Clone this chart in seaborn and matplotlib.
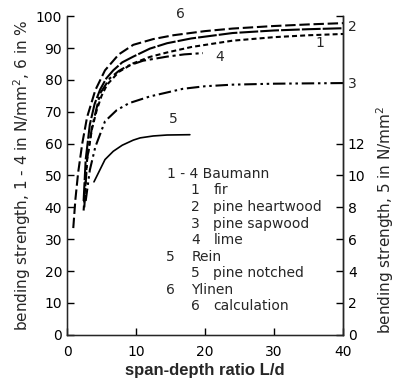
import numpy as np
import pandas as pd
import matplotlib
matplotlib.use("Agg")
import matplotlib.pyplot as plt
import seaborn as sns

# -----------------------------------
# Curve data
# -----------------------------------
x6 = [0.9, 1.2, 1.6, 2.2, 2.9, 4.1, 5.5, 7.5, 9.6, 12.5, 15.4, 20, 24, 30, 35, 40]
y6 = [33.5, 42.3, 50.8, 60, 68.3, 76.8, 83, 88, 91, 92.8, 94, 95.3, 96.1, 96.9, 97.4, 97.8]

x2 = [2.4, 2.7, 3.3, 4.0, 4.8, 5.7, 6.7, 8.0, 9.6, 12, 14.5, 18, 24, 30, 35, 40]
y2 = [42, 55, 66, 72.5, 77, 80.5, 83, 85.5, 87.3, 89.8, 91.5, 93, 94.7, 95.5, 95.9, 96.2]

x1 = [2.4, 2.9, 3.6, 4.3, 5.0, 5.8, 7.5, 9.6, 12, 14.5, 18, 24, 30, 35, 40]
y1 = [39, 55, 64.5, 70.5, 75, 78.5, 82.5, 85.2, 87.2, 88.6, 90.3, 92.3, 93.4, 94, 94.4]

x4 = [2.5, 2.9, 3.6, 4.8, 6.2, 7.5, 8.7, 11, 14.5, 17, 19.7]
y4 = [40, 55, 65, 75.8, 80.5, 82.8, 84.3, 86, 87.3, 88, 88.4]

x3 = [2.7, 3.3, 4.1, 5.5, 7.2, 9.0, 12, 16.8, 20, 24, 30, 40]
y3 = [42, 51.7, 59, 67, 70.5, 72.7, 74.8, 77.2, 78, 78.5, 78.8, 79]

x5 = [3.9, 5.5, 6.7, 8.0, 9.6, 10.6, 12.5, 14.5, 17.8]
y5 = [48, 55, 57.6, 59.5, 61.1, 61.8, 62.4, 62.7, 62.8]

curve_names = ["6", "2", "1", "4", "3", "5"]
curve_x = [x6, x2, x1, x4, x3, x5]
curve_y = [y6, y2, y1, y4, y3, y5]

legend_lines = [
    ("1 - 4 Baumann", "", 0),
    ("1", "fir", 1),
    ("2", "pine heartwood", 1),
    ("3", "pine sapwood", 1),
    ("4", "lime", 1),
    ("5", "Rein", 2),
    ("5", "pine notched", 1),
    ("6", "Ylinen", 2),
    ("6", "calculation", 1),
]

frames = []
for name, xs, ys in zip(curve_names, curve_x, curve_y):
    frames.append(pd.DataFrame({"L/d": xs, "strength": ys, "curve": name}))
data = pd.concat(frames, ignore_index=True)

dash_map = {
    "6": (5, 1.8),
    "2": (9, 1.0),
    "1": (2.4, 1.5),
    "4": (6, 1.8, 1.5, 1.8),
    "3": (6, 1.8, 1.2, 1.8, 1.2, 1.8),
    "5": "",
}

# -----------------------------------
# Plot
# -----------------------------------
sns.set_style("ticks")
plt.rcParams["font.family"] = ["DejaVu Sans"]

fig = plt.figure(figsize=(4.04, 3.84), dpi=100)
ax = fig.add_axes([0.166, 0.128, 0.683, 0.83])

sns.lineplot(
    data=data,
    x="L/d",
    y="strength",
    hue="curve",
    style="curve",
    dashes=dash_map,
    palette={k: "black" for k in curve_names},
    linewidth=1.5,
    sort=False,
    estimator=None,
    legend=False,
    ax=ax
)
# curve 5 is drawn thinner in the original
ax.lines[-1].set_linewidth(1.2)

ax.set_xlim(0, 40)
ax.set_ylim(0, 100)
ax.set_xticks(range(0, 41, 10))
ax.set_yticks(range(0, 101, 10))
ax.tick_params(direction="in", length=5, width=1, labelsize=10, colors="black")
ax.tick_params(axis="x", pad=7)
for s in ["left", "bottom", "right"]:
    ax.spines[s].set_linewidth(1)
    ax.spines[s].set_color("black")
ax.spines["top"].set_visible(False)

ax.set_xlabel("span-depth ratio L/d", fontsize=12, fontweight="bold",
              family="Liberation Sans", labelpad=3)
ax.set_ylabel("bending strength, 1 - 4 in N/mm$^2$, 6 in %", fontsize=11,
              labelpad=2)

# Right axis: curve 5 in N/mm^2
ax2 = ax.twinx()
ax2.set_ylim(0, 20)
ax2.set_yticks([0, 2, 4, 6, 8, 10, 12, 20])
ax2.set_yticklabels(["0", "2", "4", "6", "8", "10", "12", ""])
ax2.tick_params(direction="in", length=5, width=1, labelsize=10, colors="black")
ax2.spines["top"].set_visible(False)
ax2.spines["right"].set_linewidth(1)
ax2.set_ylabel("bending strength, 5 in N/mm$^2$", fontsize=11)
ax2.yaxis.set_label_coords(1.115, 0.36)

# Curve labels
ax.text(15.8, 99.5, "6", fontsize=10)
ax.text(36.0, 90.2, "1", fontsize=10)
ax.text(21.5, 86.0, "4", fontsize=10)
ax.text(14.8, 66.5, "5", fontsize=10)
ax.text(40.7, 96.5, "2", fontsize=10, va="center", clip_on=False)
ax.text(40.7, 78.8, "3", fontsize=10, va="center", clip_on=False)

# Legend text block
y_pos = 50.5
for num, label, kind in legend_lines:
    if kind == 0:
        ax.text(14.5, y_pos, num, fontsize=10, va="center")
    elif kind == 1:
        ax.text(18.6, y_pos, num, fontsize=10, va="center", ha="center")
        ax.text(21.2, y_pos, label, fontsize=10, va="center")
    else:
        ax.text(15.0, y_pos, num, fontsize=10, va="center", ha="center")
        ax.text(18.0, y_pos, label, fontsize=10, va="center")
    y_pos -= 5.2

plt.savefig("out.png", dpi=100)
